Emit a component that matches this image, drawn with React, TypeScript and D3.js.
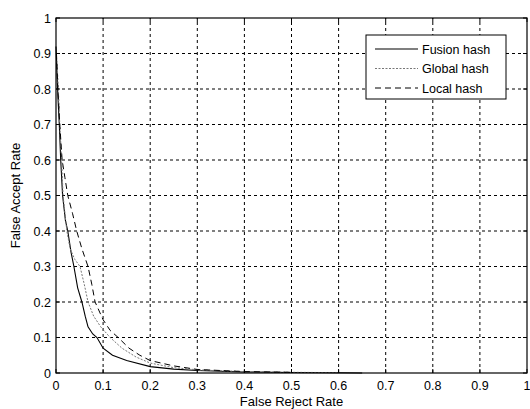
import React from "react";
import * as d3 from "d3";

const xTicks = [0, 0.1, 0.2, 0.3, 0.4, 0.5, 0.6, 0.7, 0.8, 0.9, 1];
const yTicks = [0, 0.1, 0.2, 0.3, 0.4, 0.5, 0.6, 0.7, 0.8, 0.9, 1];
const tickLabels = ["0", "0.1", "0.2", "0.3", "0.4", "0.5", "0.6", "0.7", "0.8", "0.9", "1"];

const fusionFRR = [0, 0.002, 0.004, 0.007, 0.01, 0.014, 0.02, 0.025, 0.032, 0.038, 0.046, 0.055, 0.062, 0.068, 0.078, 0.087, 0.1, 0.12, 0.15, 0.2, 0.25, 0.3, 0.4, 0.5, 0.6, 0.65];
const fusionFAR = [0.92, 0.85, 0.78, 0.7, 0.6, 0.5, 0.43, 0.4, 0.34, 0.3, 0.24, 0.2, 0.16, 0.13, 0.11, 0.1, 0.07, 0.05, 0.035, 0.018, 0.011, 0.007, 0.003, 0.0015, 0.0008, 0];

const globalFRR = [0.002, 0.005, 0.008, 0.012, 0.015, 0.019, 0.023, 0.03, 0.04, 0.051, 0.06, 0.068, 0.08, 0.095, 0.115, 0.14, 0.17, 0.2, 0.25, 0.3, 0.4, 0.5, 0.6];
const globalFAR = [0.88, 0.8, 0.7, 0.6, 0.5, 0.45, 0.4, 0.35, 0.32, 0.3, 0.25, 0.2, 0.16, 0.13, 0.1, 0.07, 0.045, 0.028, 0.015, 0.009, 0.004, 0.002, 0.001];

const localFRR = [0.001, 0.004, 0.008, 0.013, 0.019, 0.025, 0.035, 0.044, 0.055, 0.068, 0.076, 0.083, 0.1, 0.115, 0.132, 0.155, 0.178, 0.2, 0.25, 0.3, 0.4, 0.5];
const localFAR = [0.9, 0.8, 0.7, 0.6, 0.55, 0.5, 0.45, 0.4, 0.35, 0.3, 0.25, 0.2, 0.15, 0.12, 0.1, 0.07, 0.05, 0.035, 0.02, 0.01, 0.004, 0.002];

const seriesNames = ["Fusion hash", "Global hash", "Local hash"];

const W = 530;
const H = 409;
const m = { left: 56, right: 3, top: 18, bottom: 36 };

export default function App() {
  const x = d3.scaleLinear().domain([0, 1]).range([m.left, W - m.right]);
  const y = d3.scaleLinear().domain([0, 1]).range([H - m.bottom, m.top]);
  const line = d3
    .line<[number, number]>()
    .x((d) => x(d[0]))
    .y((d) => y(d[1]))
    .curve(d3.curveLinear);

  const zip = (a: number[], b: number[]) => a.map((v, i) => [v, b[i]] as [number, number]);
  const series = [
    { name: seriesNames[0], d: zip(fusionFRR, fusionFAR), stroke: "#000", dash: "none", w: 1.1 },
    { name: seriesNames[1], d: zip(globalFRR, globalFAR), stroke: "#777", dash: "2,1.5", w: 1 },
    { name: seriesNames[2], d: zip(localFRR, localFAR), stroke: "#000", dash: "6,4", w: 1 },
  ];

  const font = "'Liberation Sans', Arial, sans-serif";
  const lx = 366, ly = 35, lw = 140, lh = 64;

  return (
    <svg width={W} height={H} style={{ position: "absolute", left: 0, top: 0, background: "#fff" }} fontFamily={font}>
      <rect x={0} y={0} width={W} height={H} fill="#fff" />
      {xTicks.slice(1, -1).map((t) => (
        <line key={"gx" + t} x1={x(t)} x2={x(t)} y1={y(0)} y2={y(1)} stroke="#000" strokeWidth={1} strokeDasharray="3,3" />
      ))}
      {yTicks.slice(1, -1).map((t) => (
        <line key={"gy" + t} x1={x(0)} x2={x(1)} y1={y(t)} y2={y(t)} stroke="#000" strokeWidth={1} strokeDasharray="3,3" />
      ))}
      {series.map((s) => (
        <path key={s.name} d={line(s.d) || ""} fill="none" stroke={s.stroke} strokeWidth={s.w} strokeDasharray={s.dash} />
      ))}
      <rect x={x(0)} y={y(1)} width={x(1) - x(0)} height={y(0) - y(1)} fill="none" stroke="#000" strokeWidth={1.2} />
      {xTicks.map((t, i) => (
        <g key={"xt" + t}>
          <line x1={x(t)} x2={x(t)} y1={y(0)} y2={y(0) - 4} stroke="#000" />
          <line x1={x(t)} x2={x(t)} y1={y(1)} y2={y(1) + 4} stroke="#000" />
          <text x={x(t)} y={y(0) + 17} fontSize={12.5} textAnchor="middle" fill="#000">{tickLabels[i]}</text>
        </g>
      ))}
      {yTicks.map((t, i) => (
        <g key={"yt" + t}>
          <line x1={x(0)} x2={x(0) + 4} y1={y(t)} y2={y(t)} stroke="#000" />
          <line x1={x(1)} x2={x(1) - 4} y1={y(t)} y2={y(t)} stroke="#000" />
          <text x={x(0) - 5} y={y(t) + 4.5} fontSize={12.5} textAnchor="end" fill="#000">{tickLabels[i]}</text>
        </g>
      ))}
      <text x={(x(0) + x(1)) / 2} y={H - 3} fontSize={13} textAnchor="middle" fill="#000">False Reject Rate</text>
      <text transform={`translate(20, ${(y(0) + y(1)) / 2}) rotate(-90)`} fontSize={13} textAnchor="middle" fill="#000">False Accept Rate</text>
      <rect x={lx} y={ly} width={lw} height={lh} fill="#fff" stroke="#000" strokeWidth={1} />
      {series.map((s, i) => (
        <g key={"lg" + s.name}>
          <line x1={lx + 9} x2={lx + 52} y1={ly + 14 + i * 19.5} y2={ly + 14 + i * 19.5} stroke={s.stroke} strokeWidth={s.w} strokeDasharray={s.dash} />
          <text x={lx + 56} y={ly + 18.5 + i * 19.5} fontSize={12.5} fill="#000">{s.name}</text>
        </g>
      ))}
    </svg>
  );
}
